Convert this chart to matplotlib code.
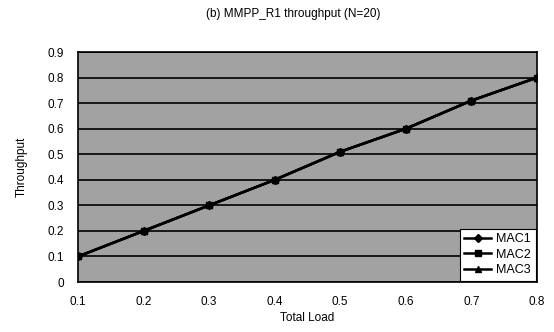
import matplotlib
matplotlib.use("Agg")
import matplotlib.pyplot as plt

load = [0.1, 0.2, 0.3, 0.4, 0.5, 0.6, 0.7, 0.8]
mac1 = [0.10, 0.20, 0.30, 0.40, 0.51, 0.60, 0.71, 0.80]
mac2 = [0.10, 0.20, 0.30, 0.40, 0.51, 0.60, 0.71, 0.80]
mac3 = [0.10, 0.20, 0.30, 0.40, 0.51, 0.60, 0.71, 0.80]
xticks = [0.1, 0.2, 0.3, 0.4, 0.5, 0.6, 0.7, 0.8]
yticks = [0, 0.1, 0.2, 0.3, 0.4, 0.5, 0.6, 0.7, 0.8, 0.9]

plt.rcParams['font.family'] = ['Liberation Sans', 'DejaVu Sans']
fig = plt.figure(figsize=(5.54, 3.32), dpi=100)
ax = fig.add_axes([0.141, 0.1506, 0.828, 0.6924])
ax.set_facecolor('#a2a2a2')

ax.plot(load, mac1, color='black', lw=1.8, marker='D', ms=4.5, label='MAC1')
ax.plot(load, mac2, color='black', lw=1.8, marker='s', ms=4.5, label='MAC2')
ax.plot(load, mac3, color='black', lw=1.8, marker='^', ms=4.5, label='MAC3')

ax.set_xlim(0.1, 0.8)
ax.set_ylim(0, 0.9)
ax.set_xticks(xticks)
ax.set_xticklabels([f"{v:g}" for v in xticks])
ax.set_yticks(yticks)
ax.set_yticklabels([f"{v:g}" for v in yticks])
ax.tick_params(length=0, labelsize=8.5, pad=10)
ax.yaxis.grid(True, color='black', lw=1.2)
ax.set_axisbelow(True)
for s in ax.spines.values():
    s.set_color('black')
    s.set_linewidth(1.2)

ax.set_xlabel('Total Load', fontsize=8.5, labelpad=3)
ax.set_ylabel('Throughput', fontsize=8.5, labelpad=14)
fig.text(0.53, 0.958, '(b) MMPP_R1 throughput (N=20)', ha='center', va='center', fontsize=8.5)

leg = ax.legend(loc='lower right', fontsize=9, frameon=True, fancybox=False,
                edgecolor='black', framealpha=1, borderaxespad=0.1,
                handlelength=2.2, labelspacing=0.3, borderpad=0.35,
                handletextpad=0.4)
leg.get_frame().set_linewidth(0.8)

fig.savefig('out.png', dpi=100)
